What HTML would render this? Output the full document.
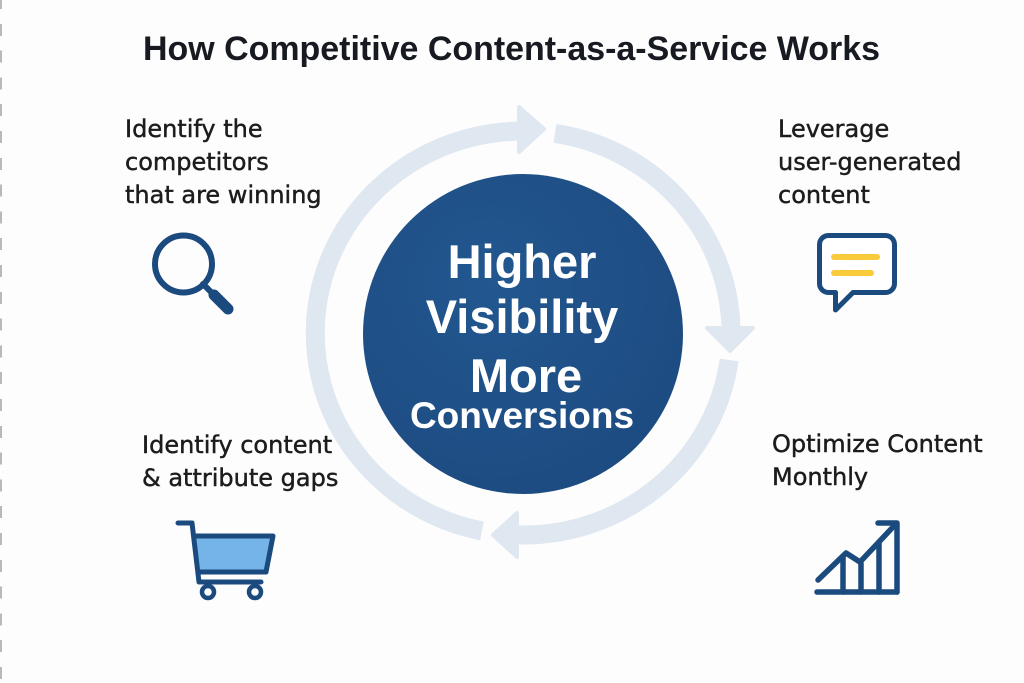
<!DOCTYPE html>
<html>
<head>
<meta charset="utf-8">
<style>
  html,body{margin:0;padding:0;background:#fdfdfd;}
  .wrap{position:relative;width:1024px;height:683px;overflow:hidden;background:#fdfdfd;}
  .dash{position:absolute;left:0;top:-3px;width:2px;height:700px;
    background:repeating-linear-gradient(to bottom,#b9b9b9 0 12px,transparent 12px 26.8px);}
  svg{position:absolute;left:0;top:0;}
</style>
</head>
<body>
<div class="wrap">
  <div class="dash"></div>
  <svg width="1024" height="683" viewBox="0 0 1024 683" xmlns="http://www.w3.org/2000/svg">
    <defs>
      <radialGradient id="cg" cx="0.4" cy="0.35" r="0.75">
        <stop offset="0" stop-color="#22578f"/>
        <stop offset="1" stop-color="#1c4a80"/>
      </radialGradient>
    </defs>

    <!-- Title -->
    <text x="143" y="60" font-family="Liberation Sans, Arial, sans-serif" font-weight="bold" font-size="34" fill="#171a20" textLength="737" lengthAdjust="spacingAndGlyphs">How Competitive Content-as-a-Service Works</text>

    <!-- Ring segments -->
    <g fill="none" stroke="#dfe7f0" stroke-width="19">
      <path d="M481.9 531 A208 202 0 0 1 517.9 131.1"/>
      <path d="M555 133.4 A208 202 0 0 1 730.9 327"/>
      <path d="M729.1 360 A208 202 0 0 1 518 535"/>
    </g>
    <!-- Arrowheads -->
    <g fill="#dfe7f0" stroke="#dfe7f0" stroke-width="4" stroke-linejoin="round">
      <polygon points="519,107 519,152 544,129"/>
      <polygon points="707,328 753,328 730,351"/>
      <polygon points="517,513 517,557 493,535"/>
    </g>

    <!-- Central circle -->
    <circle cx="523" cy="334" r="160" fill="url(#cg)"/>
    <g font-family="Liberation Sans, Arial, sans-serif" font-weight="bold" fill="#ffffff" text-anchor="middle">
      <text x="522" y="278" font-size="47">Higher</text>
      <text x="522" y="333" font-size="47">Visibility</text>
      <text x="526" y="392" font-size="47">More</text>
      <text x="522" y="428" font-size="37">Conversions</text>
    </g>

    <!-- Labels -->
    <g font-family="DejaVu Sans, Liberation Sans, sans-serif" font-size="24" fill="#1c1c1c" stroke="#1c1c1c" stroke-width="0.45">
      <text x="125" y="137">Identify the</text>
      <text x="125" y="170">competitors</text>
      <text x="125" y="203">that are winning</text>

      <text x="778" y="137">Leverage</text>
      <text x="778" y="170">user-generated</text>
      <text x="778" y="203">content</text>

      <text x="142" y="453">Identify content</text>
      <text x="142" y="486">&amp; attribute gaps</text>

      <text x="772" y="452">Optimize Content</text>
      <text x="772" y="485">Monthly</text>
    </g>

    <!-- Magnifier icon -->
    <g stroke="#1b4a7e" fill="none" stroke-linecap="round">
      <circle cx="183.5" cy="264" r="28.5" stroke-width="6"/>
      <line x1="203" y1="284" x2="212" y2="293" stroke-width="6"/>
      <line x1="214" y1="295" x2="228" y2="309" stroke-width="11"/>
    </g>

    <!-- Speech bubble icon -->
    <path d="M828.5 235.5 H885.5 A9 9 0 0 1 894.5 244.5 V283.5 A9 9 0 0 1 885.5 292.5 H853 L835.5 310 V292.5 H828.5 A9 9 0 0 1 819.5 283.5 V244.5 A9 9 0 0 1 828.5 235.5 Z"
          fill="#ffffff" stroke="#1b4a7e" stroke-width="5" stroke-linejoin="round"/>
    <g stroke="#f9ca3a" stroke-width="6" stroke-linecap="round">
      <line x1="834" y1="257" x2="877" y2="257"/>
      <line x1="834" y1="273" x2="871" y2="273"/>
    </g>

    <!-- Cart icon -->
    <polygon points="194,537 272,537 266,571 198,571" fill="#74b4e8"/>
    <g stroke="#1b4a7e" fill="none" stroke-width="5" stroke-linecap="round" stroke-linejoin="round">
      <path d="M178 523 H192 L199 582 H261"/>
      <path d="M194 536 H273 L266 572 H198"/>
    </g>
    <g stroke="#1b4a7e" fill="#ffffff" stroke-width="4.5">
      <circle cx="208" cy="592" r="6"/>
      <circle cx="255" cy="592" r="6"/>
    </g>

    <!-- Chart icon -->
    <g stroke="#1b4a7e" fill="none" stroke-width="5.5" stroke-linecap="round" stroke-linejoin="round">
      <path d="M817 592 H897"/>
      <path d="M818 580 L846 553 L860 562 L893 527"/>
      <path d="M878 523 H897 V592"/>
      <line x1="843" y1="556" x2="843" y2="592"/>
      <line x1="861" y1="563" x2="861" y2="592"/>
      <line x1="879" y1="543" x2="879" y2="592"/>
    </g>
  </svg>
</div>
</body>
</html>
